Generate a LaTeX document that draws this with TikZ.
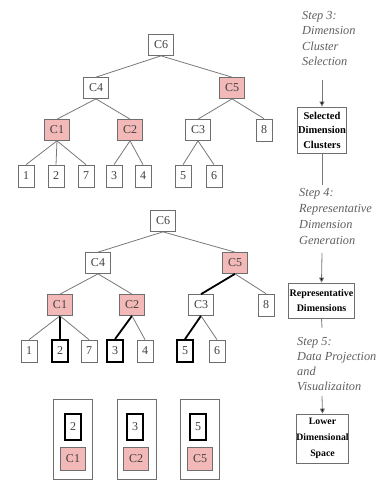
\documentclass[tikz,border=0pt]{standalone}
\usepackage{fontspec}
\setmainfont{Liberation Serif}
\usetikzlibrary{arrows.meta}
\definecolor{pinkc}{RGB}{243,184,184}
\definecolor{edgec}{RGB}{120,120,120}
\definecolor{boxc}{RGB}{110,110,110}
\definecolor{stepc}{RGB}{95,95,95}
\tikzset{
  cbox/.style={draw=boxc, line width=0.7pt, minimum width=25pt, minimum height=21pt, inner sep=0pt,
    font=\fontsize{12}{13}\selectfont, text=black!75},
  nbox/.style={cbox, minimum width=16pt, minimum height=22pt},
  pinkbox/.style={fill=pinkc},
  thickbox/.style={draw=black, line width=1.8pt},
  edge/.style={draw=edgec, line width=0.8pt},
  thickedge/.style={draw=black, line width=1.8pt},
  outerbox/.style={draw=boxc, line width=0.7pt, minimum width=39pt, minimum height=80pt, inner sep=0pt},
  resultbox/.style={draw=boxc, line width=0.8pt, inner sep=0pt, align=center, text=black,
    font=\bfseries\fontsize{10.5}{14.5}\selectfont},
  steptext/.style={anchor=north west, inner sep=0pt, align=left, text=stepc,
    font=\itshape\fontsize{12.3}{15.5}\selectfont},
  flow/.style={draw=edgec, line width=0.8pt},
  flowarrow/.style={flow, -{Triangle[length=5pt,width=5pt,fill=black]}}
}
\begin{document}
\begin{tikzpicture}[x=1pt,y=-1pt]
\useasboundingbox (0,0) rectangle (378,481);
% ---------- top tree ----------
\node[cbox] (a6) at (161,45) {C6};
\node[cbox] (a4) at (96,88) {C4};
\node[cbox,pinkbox] (a5) at (232,88) {C5};
\node[cbox,pinkbox] (a1) at (57,130) {C1};
\node[cbox,pinkbox] (a2) at (130,130) {C2};
\node[cbox] (a3) at (198,130) {C3};
\node[nbox] (a8) at (264,130) {8};
\node[nbox] (l1) at (26,176) {1};
\node[nbox] (l2) at (56,176) {2};
\node[nbox] (l7) at (86,176) {7};
\node[nbox] (l3) at (114,176) {3};
\node[nbox] (l4) at (143,176) {4};
\node[nbox] (l5) at (183,176) {5};
\node[nbox] (l6) at (214,176) {6};
\draw[edge] (a6.south) -- (a4.north);
\draw[edge] (a6.south) -- (a5.north);
\draw[edge] (a4.south) -- (a1.north);
\draw[edge] (a4.south) -- (a2.north);
\draw[edge] (a5.south) -- (a3.north);
\draw[edge] (a5.south) -- (a8.north);
\draw[edge] (a1.south) -- (l1.north);
\draw[edge] (a1.south) -- (l2.north);
\draw[edge] (a1.south) -- (l7.north);
\draw[edge] (a2.south) -- (l3.north);
\draw[edge] (a2.south) -- (l4.north);
\draw[edge] (a3.south) -- (l5.north);
\draw[edge] (a3.south) -- (l6.north);
% ---------- second tree ----------
\node[cbox] (b6) at (163,221) {C6};
\node[cbox] (b4) at (98,263) {C4};
\node[cbox,pinkbox] (b5) at (235,263) {C5};
\node[cbox,pinkbox] (b1) at (60,305) {C1};
\node[cbox,pinkbox] (b2) at (132,305) {C2};
\node[cbox] (b3) at (201,305) {C3};
\node[nbox] (b8) at (266,305) {8};
\node[nbox] (m1) at (29,351) {1};
\node[nbox,thickbox] (m2) at (60,351) {2};
\node[nbox] (m7) at (89,351) {7};
\node[nbox,thickbox] (m3) at (115,351) {3};
\node[nbox] (m4) at (145,351) {4};
\node[nbox,thickbox] (m5) at (185,351) {5};
\node[nbox] (m6) at (217,351) {6};
\draw[edge] (b6.south) -- (b4.north);
\draw[edge] (b6.south) -- (b5.north);
\draw[edge] (b4.south) -- (b1.north);
\draw[edge] (b4.south) -- (b2.north);
\draw[thickedge] (b5.south) -- (b3.north);
\draw[edge] (b5.south) -- (b8.north);
\draw[edge] (b1.south) -- (m1.north);
\draw[thickedge] (b1.south) -- (m2.north);
\draw[edge] (b1.south) -- (m7.north);
\draw[thickedge] (b2.south) -- (m3.north);
\draw[edge] (b2.south) -- (m4.north);
\draw[thickedge] (b3.south) -- (m5.north);
\draw[edge] (b3.south) -- (m6.north);
% ---------- bottom groups ----------
\node[outerbox] (g1) at (72.5,439) {};
\node[outerbox] (g2) at (136.5,439) {};
\node[outerbox] (g3) at (199.5,439) {};
\node[nbox,thickbox,minimum width=16pt,minimum height=26pt] (s1) at (73,427) {2};
\node[nbox,thickbox,minimum width=16pt,minimum height=26pt] (s2) at (135,427) {3};
\node[nbox,thickbox,minimum width=16pt,minimum height=26pt] (s3) at (198,427) {5};
\node[cbox,pinkbox,minimum height=23pt] (c1) at (73,459) {C1};
\node[cbox,pinkbox,minimum height=23pt] (c2) at (136,459) {C2};
\node[cbox,pinkbox,minimum height=23pt] (c3) at (200,459) {C5};
% ---------- right column ----------
\node[steptext] (t3) at (302,11) {Step 3:\\Dimension\\Cluster\\Selection};
\node[resultbox, minimum width=49pt, minimum height=46pt] (r1) at (322,130) {Selected\\Dimension\\Clusters};
\node[steptext,font=\itshape\fontsize{12.3}{16}\selectfont] (t4) at (299,188) {Step 4:\\Representative\\Dimension\\Generation};
\node[resultbox, minimum width=66pt, minimum height=35pt, font=\bfseries\fontsize{10}{14.5}\selectfont] (r2) at (321.5,300.5) {Representative\\Dimensions};
\node[steptext,font=\itshape\fontsize{12.3}{15}\selectfont] (t5) at (297,337) {Step 5:\\Data Projection\\and\\Visualizaiton};
\node[resultbox, minimum width=50pt, minimum height=49pt, font=\bfseries\fontsize{9.8}{16}\selectfont] (r3) at (322.5,438.5) {Lower\\Dimensional\\Space};
\coordinate (p1) at (322,80);
\coordinate (p2) at (322,185);
\coordinate (p3) at (322,253);
\coordinate (p4) at (322,328);
\coordinate (p5) at (322,396);
\draw[flowarrow] (p1) -- (r1.north);
\draw[flow] (r1.south) -- (p2);
\draw[flowarrow] (p3) -- (r2.north);
\draw[flow] (r2.south) -- (p4);
\draw[flowarrow] (p5) -- (r3.north);
\end{tikzpicture}
\end{document}
